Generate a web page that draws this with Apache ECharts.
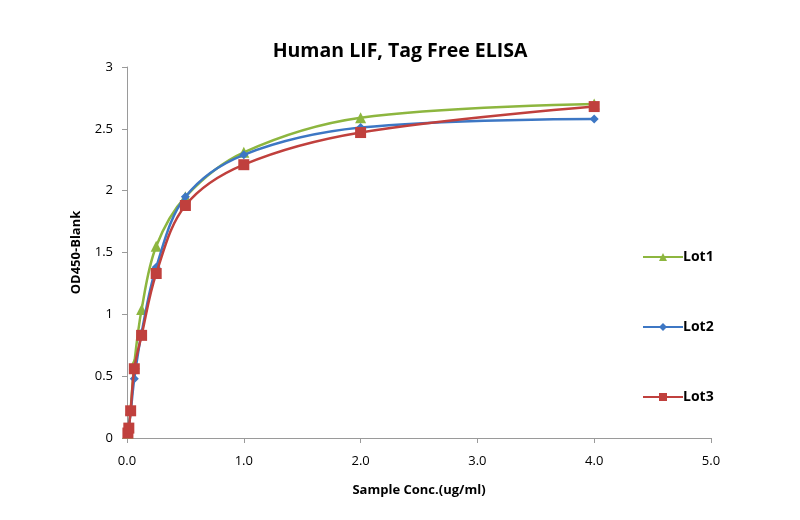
<!DOCTYPE html>
<html><head><meta charset="utf-8">
<script src="https://cdn.jsdelivr.net/npm/echarts@6/dist/echarts.min.js"></script>
<style>html,body{margin:0;padding:0;background:#fff}#c{width:800px;height:520px}</style>
</head><body><div id="c"></div>
<script>
const conc = [4, 2, 1, 0.5, 0.25, 0.125, 0.0625, 0.03125, 0.015625, 0.0078125];
const lot1 = [2.70, 2.59, 2.31, 1.95, 1.55, 1.04, 0.60, 0.23, 0.09, 0.04];
const lot2 = [2.58, 2.51, 2.29, 1.95, 1.38, 0.85, 0.48, 0.21, 0.09, 0.04];
const lot3 = [2.68, 2.47, 2.21, 1.88, 1.33, 0.83, 0.56, 0.22, 0.08, 0.04];
const seriesNames = ['Lot1', 'Lot2', 'Lot3'];
const colors = ['#8db63f', '#3d77c4', '#c0403d'];
const symbols = ['triangle', 'diamond', 'rect'];
const symbolSizes = [11, 9, 11];
const allData = [lot1, lot2, lot3];

const chart = echarts.init(document.getElementById('c'));
const font = 'Open Sans, Liberation Sans, sans-serif';
chart.setOption({
  animation: false,
  title: {text: 'Human LIF, Tag Free ELISA', left: 'center', top: 36,
    textStyle: {fontFamily: font, fontSize: 19.5, fontWeight: 'bold', color: '#000'}},
  grid: {left: 127, right: 89, top: 67, bottom: 82},
  legend: {orient: 'vertical', left: 637, top: 245, itemGap: 56, itemWidth: 40, itemHeight: 10,
    data: seriesNames, textStyle: {fontFamily: font, fontSize: 14, fontWeight: 'bold', color: '#000', padding: [0,0,0,-5]}},
  xAxis: {type: 'value', min: 0, max: 5, interval: 1,
    name: 'Sample Conc.(ug/ml)', nameLocation: 'middle', nameGap: 46,
    nameTextStyle: {fontFamily: font, fontSize: 13, fontWeight: 'bold', color: '#000'},
    axisLine: {lineStyle: {color: '#9a9a9a'}}, axisTick: {show: true, lineStyle: {color: '#9a9a9a'}},
    splitLine: {show: false},
    axisLabel: {fontFamily: font, fontSize: 13, color: '#000', margin: 17, formatter: v => v.toFixed(1)}},
  yAxis: {type: 'value', min: 0, max: 3, interval: 0.5,
    name: 'OD450-Blank', nameLocation: 'middle', nameGap: 44,
    nameTextStyle: {fontFamily: font, fontSize: 13, fontWeight: 'bold', color: '#000'},
    axisLine: {show: true, lineStyle: {color: '#9a9a9a'}}, axisTick: {show: true, lineStyle: {color: '#9a9a9a'}},
    splitLine: {show: false},
    axisLabel: {fontFamily: font, fontSize: 13, color: '#000', margin: 14}},
  series: seriesNames.map((n, i) => ({
    name: n, type: 'line', smooth: 0.35,
    data: conc.map((c, j) => [c, allData[i][j]]).reverse(),
    symbol: symbols[i], symbolSize: symbolSizes[i], showSymbol: true,
    lineStyle: {width: 2.5, color: colors[i]},
    itemStyle: {color: colors[i]}, z: 3 + i
  }))
});
</script></body></html>
